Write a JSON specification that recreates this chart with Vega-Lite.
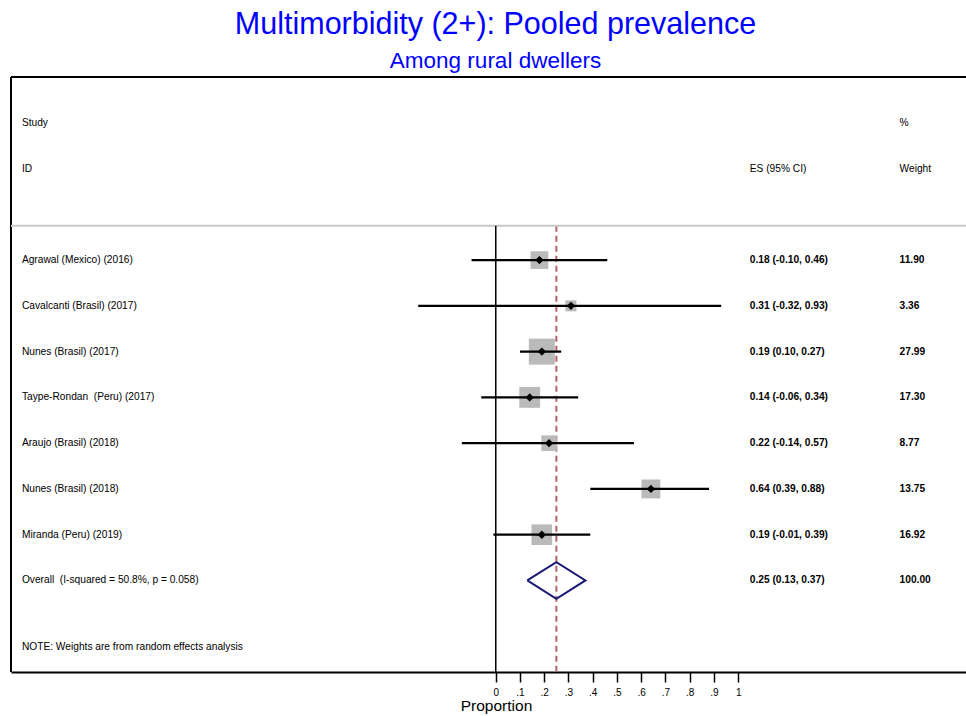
{
  "$schema": "https://vega.github.io/schema/vega-lite/v6.json",
  "autosize": {"type": "none"},
  "padding": {"left": 11, "top": 77, "right": 0, "bottom": 44},
  "width": 955,
  "height": 595,
  "background": "white",
  "title": {
    "text": "Multimorbidity (2+): Pooled prevalence",
    "subtitle": "Among rural dwellers",
    "anchor": "middle",
    "dx": 7,
    "offset": 4,
    "font": "Liberation Sans",
    "fontSize": 30.5,
    "fontWeight": "normal",
    "color": "#0000FF",
    "subtitleFont": "Liberation Sans",
    "subtitleFontSize": 22.5,
    "subtitleColor": "#0000FF",
    "subtitlePadding": 9
  },
  "config": {
    "view": {"stroke": null},
    "font": "Liberation Sans",
    "text": {"font": "Liberation Sans", "fontSize": 10.2, "color": "black"},
    "axisX": {
      "grid": false,
      "domainColor": "black",
      "domainWidth": 2,
      "tickColor": "black",
      "tickWidth": 1.5,
      "tickSize": 10,
      "labelFont": "Liberation Sans",
      "labelFontSize": 10,
      "labelColor": "black",
      "labelPadding": 5,
      "titleFont": "Liberation Sans",
      "titleFontSize": 15.5,
      "titleFontWeight": "normal",
      "titleColor": "black",
      "titlePadding": 1
    }
  },
  "datasets": {
    "studies": [
      {"row": 1, "label": "Agrawal (Mexico) (2016)", "es": 0.18, "lo": -0.10, "hi": 0.46, "weight": 11.90, "estext": "0.18 (-0.10, 0.46)", "wtext": "11.90"},
      {"row": 2, "label": "Cavalcanti (Brasil) (2017)", "es": 0.31, "lo": -0.32, "hi": 0.93, "weight": 3.36, "estext": "0.31 (-0.32, 0.93)", "wtext": "3.36"},
      {"row": 3, "label": "Nunes (Brasil) (2017)", "es": 0.19, "lo": 0.10, "hi": 0.27, "weight": 27.99, "estext": "0.19 (0.10, 0.27)", "wtext": "27.99"},
      {"row": 4, "label": "Taype-Rondan\u00a0 (Peru) (2017)", "es": 0.14, "lo": -0.06, "hi": 0.34, "weight": 17.30, "estext": "0.14 (-0.06, 0.34)", "wtext": "17.30"},
      {"row": 5, "label": "Araujo (Brasil) (2018)", "es": 0.22, "lo": -0.14, "hi": 0.57, "weight": 8.77, "estext": "0.22 (-0.14, 0.57)", "wtext": "8.77"},
      {"row": 6, "label": "Nunes (Brasil) (2018)", "es": 0.64, "lo": 0.39, "hi": 0.88, "weight": 13.75, "estext": "0.64 (0.39, 0.88)", "wtext": "13.75"},
      {"row": 7, "label": "Miranda (Peru) (2019)", "es": 0.19, "lo": -0.01, "hi": 0.39, "weight": 16.92, "estext": "0.19 (-0.01, 0.39)", "wtext": "16.92"}
    ],
    "overall": [
      {"row": 8, "label": "Overall\u00a0 (I-squared = 50.8%, p = 0.058)", "es": 0.25, "lo": 0.13, "hi": 0.37, "estext": "0.25 (0.13, 0.37)", "wtext": "100.00"}
    ],
    "diamond": [
      {"vertex": 1, "x": 0.13, "y": 8},
      {"vertex": 2, "x": 0.25, "y": 7.6},
      {"vertex": 3, "x": 0.37, "y": 8},
      {"vertex": 4, "x": 0.25, "y": 8.4},
      {"vertex": 5, "x": 0.13, "y": 8}
    ],
    "headers": [
      {"row": -2, "label": "Study", "estext": "", "wtext": "%"},
      {"row": -1, "label": "ID", "estext": "ES (95% CI)", "wtext": "Weight"},
      {"row": 9.45, "label": "NOTE: Weights are from random effects analysis", "estext": "", "wtext": ""}
    ]
  },
  "layer": [
    {
      "data": {"name": "overall"},
      "mark": {"type": "rule", "color": "#b0636b", "strokeWidth": 2, "strokeDash": [6, 4]},
      "encoding": {
        "x": {
          "field": "es", "type": "quantitative",
          "scale": {"domain": [-2, 1.94], "nice": false, "zero": false},
          "axis": {
            "title": "Proportion",
            "values": [0, 0.1, 0.2, 0.3, 0.4, 0.5, 0.6, 0.7, 0.8, 0.9, 1],
            "labelExpr": "datum.value == 0 || datum.value == 1 ? format(datum.value, 'd') : slice(format(datum.value, '.1f'), 1)",
            "titleX": 485,
            "titleAlign": "center"
          }
        },
        "y": {"datum": 0.25, "type": "quantitative", "scale": {"domain": [-3, 10], "reverse": true, "nice": false, "zero": false}, "axis": null},
        "y2": {"datum": 10}
      }
    },
    {
      "data": {"name": "overall"},
      "mark": {"type": "rule", "color": "black", "strokeWidth": 2},
      "encoding": {"y": {"datum": -3, "type": "quantitative"}}
    },
    {
      "data": {"name": "overall"},
      "mark": {"type": "rule", "color": "black", "strokeWidth": 2},
      "encoding": {"x": {"datum": -2, "type": "quantitative"}}
    },
    {
      "data": {"name": "overall"},
      "mark": {"type": "rule", "color": "#c8c8c8", "strokeWidth": 2},
      "encoding": {"y": {"datum": 0.25, "type": "quantitative"}}
    },
    {
      "data": {"name": "overall"},
      "mark": {"type": "rule", "color": "black", "strokeWidth": 1.5},
      "encoding": {
        "x": {"datum": 0, "type": "quantitative"},
        "y": {"datum": 0.25, "type": "quantitative"},
        "y2": {"datum": 10}
      }
    },
    {
      "data": {"name": "studies"},
      "mark": {"type": "point", "shape": "square", "filled": true, "color": "#bababa", "opacity": 1},
      "encoding": {
        "x": {"field": "es", "type": "quantitative"},
        "y": {"field": "row", "type": "quantitative"},
        "size": {"field": "weight", "type": "quantitative", "scale": {"domain": [3.36, 27.99], "range": [121, 676], "zero": false}, "legend": null}
      }
    },
    {
      "data": {"name": "studies"},
      "mark": {"type": "rule", "color": "black", "strokeWidth": 2.2},
      "encoding": {
        "x": {"field": "lo", "type": "quantitative"},
        "x2": {"field": "hi"},
        "y": {"field": "row", "type": "quantitative"}
      }
    },
    {
      "data": {"name": "studies"},
      "mark": {"type": "point", "shape": "diamond", "filled": true, "color": "black", "opacity": 1, "size": 70},
      "encoding": {
        "x": {"field": "es", "type": "quantitative"},
        "y": {"field": "row", "type": "quantitative"}
      }
    },
    {
      "data": {"name": "diamond"},
      "mark": {"type": "line", "color": "#1a1a75", "strokeWidth": 2},
      "encoding": {
        "x": {"field": "x", "type": "quantitative"},
        "y": {"field": "y", "type": "quantitative"},
        "order": {"field": "vertex", "type": "quantitative"}
      }
    },
    {
      "data": {"name": "studies"},
      "mark": {"type": "text", "align": "left", "baseline": "middle"},
      "encoding": {
        "x": {"datum": -1.955, "type": "quantitative"},
        "y": {"field": "row", "type": "quantitative"},
        "text": {"field": "label"}
      }
    },
    {
      "data": {"name": "overall"},
      "mark": {"type": "text", "align": "left", "baseline": "middle"},
      "encoding": {
        "x": {"datum": -1.955, "type": "quantitative"},
        "y": {"field": "row", "type": "quantitative"},
        "text": {"field": "label"}
      }
    },
    {
      "data": {"name": "headers"},
      "mark": {"type": "text", "align": "left", "baseline": "middle"},
      "encoding": {
        "x": {"datum": -1.955, "type": "quantitative"},
        "y": {"field": "row", "type": "quantitative"},
        "text": {"field": "label"}
      }
    },
    {
      "data": {"name": "headers"},
      "mark": {"type": "text", "align": "left", "baseline": "middle"},
      "encoding": {
        "x": {"datum": 1.048, "type": "quantitative"},
        "y": {"field": "row", "type": "quantitative"},
        "text": {"field": "estext"}
      }
    },
    {
      "data": {"name": "headers"},
      "mark": {"type": "text", "align": "left", "baseline": "middle"},
      "encoding": {
        "x": {"datum": 1.666, "type": "quantitative"},
        "y": {"field": "row", "type": "quantitative"},
        "text": {"field": "wtext"}
      }
    },
    {
      "data": {"name": "studies"},
      "mark": {"type": "text", "align": "left", "baseline": "middle", "fontWeight": "bold"},
      "encoding": {
        "x": {"datum": 1.048, "type": "quantitative"},
        "y": {"field": "row", "type": "quantitative"},
        "text": {"field": "estext"}
      }
    },
    {
      "data": {"name": "studies"},
      "mark": {"type": "text", "align": "left", "baseline": "middle", "fontWeight": "bold"},
      "encoding": {
        "x": {"datum": 1.666, "type": "quantitative"},
        "y": {"field": "row", "type": "quantitative"},
        "text": {"field": "wtext"}
      }
    },
    {
      "data": {"name": "overall"},
      "mark": {"type": "text", "align": "left", "baseline": "middle", "fontWeight": "bold"},
      "encoding": {
        "x": {"datum": 1.048, "type": "quantitative"},
        "y": {"field": "row", "type": "quantitative"},
        "text": {"field": "estext"}
      }
    },
    {
      "data": {"name": "overall"},
      "mark": {"type": "text", "align": "left", "baseline": "middle", "fontWeight": "bold"},
      "encoding": {
        "x": {"datum": 1.666, "type": "quantitative"},
        "y": {"field": "row", "type": "quantitative"},
        "text": {"field": "wtext"}
      }
    }
  ]
}
